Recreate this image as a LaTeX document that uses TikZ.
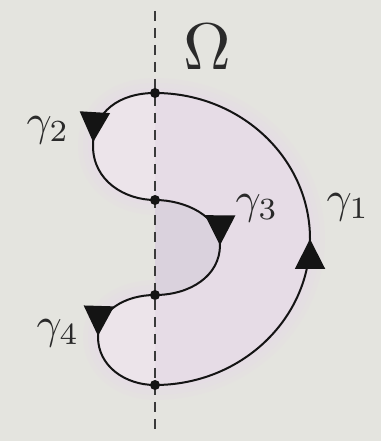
\documentclass[tikz,border=0pt]{standalone}
\usepackage{amsmath,amssymb}
\usetikzlibrary{arrows.meta,decorations.markings}
\definecolor{PaperGrey}{HTML}{E4E4DF}
\definecolor{DomPink}{HTML}{E6DCE6}
\definecolor{LoopPink}{HTML}{ECE4EA}
\definecolor{BayLilac}{HTML}{DAD2DD}
\definecolor{CurveInk}{HTML}{141414}
\definecolor{DashInk}{HTML}{3A3A3A}
\definecolor{LabelInk}{HTML}{2A2A2A}
\tikzset{
  curve/.style={line width=2pt,CurveInk},
  arrowat/.style={postaction={decorate},decoration={markings,
      mark=at position #1 with {\arrow{Triangle[length=30pt,width=30pt]}}}},
  glabel/.style={scale=4.4,text=LabelInk,inner sep=0pt},
}
\begin{document}
\begin{tikzpicture}[x=1pt,y=1pt]
  \fill[PaperGrey] (0,0) rectangle (381,441);
  \useasboundingbox (0,0) rectangle (381,441);
  \coordinate (P1) at (155,348);
  \coordinate (P2) at (155,241);
  \coordinate (P3) at (155,146);
  \coordinate (P4) at (155,56);
  \coordinate (AxisTop) at (155,430);
  \coordinate (AxisBot) at (155,5);
  % soft glow round the domain
  \foreach \w/\o in {30/0.25,20/0.35,10/0.5}
    \draw[DomPink,line width=\w pt,opacity=\o,line join=round]
      (P1) .. controls (120,348) and (93,330) .. (93,295) .. controls (93,260) and (125,241) .. (P2)
      .. controls (185,241) and (220,225) .. (220,196) .. controls (220,165) and (190,146) .. (P3)
      .. controls (125,146) and (98,130) .. (98,104) .. controls (98,75) and (125,56) .. (P4)
      .. controls (240.6,56) and (310,121.4) .. (310,202) .. controls (310,282.6) and (240.6,348) .. (P1) -- cycle;
  \fill[DomPink]
      (P1) .. controls (120,348) and (93,330) .. (93,295) .. controls (93,260) and (125,241) .. (P2)
      .. controls (185,241) and (220,225) .. (220,196) .. controls (220,165) and (190,146) .. (P3)
      .. controls (125,146) and (98,130) .. (98,104) .. controls (98,75) and (125,56) .. (P4)
      .. controls (240.6,56) and (310,121.4) .. (310,202) .. controls (310,282.6) and (240.6,348) .. (P1) -- cycle;
  % lighter loops, darker bay
  \fill[LoopPink] (P1) .. controls (120,348) and (93,330) .. (93,295) .. controls (93,260) and (125,241) .. (P2) -- cycle;
  \fill[LoopPink] (P3) .. controls (125,146) and (98,130) .. (98,104) .. controls (98,75) and (125,56) .. (P4) -- cycle;
  \fill[BayLilac] (P2) .. controls (185,241) and (220,225) .. (220,196) .. controls (220,165) and (190,146) .. (P3) -- cycle;
  % axis
  \draw[DashInk,line width=1.5pt,dash pattern=on 10pt off 7pt] (AxisTop) -- (AxisBot);
  % boundary curves
  \draw[curve,arrowat=0.48] (P1) .. controls (120,348) and (93,330) .. (93,295) .. controls (93,260) and (125,241) .. (P2);
  \draw[curve,arrowat=0.49] (P2) .. controls (185,241) and (220,225) .. (220,196) .. controls (220,165) and (190,146) .. (P3);
  \draw[curve,arrowat=0.48] (P3) .. controls (125,146) and (98,130) .. (98,104) .. controls (98,75) and (125,56) .. (P4);
  \draw[curve,arrowat=0.5] (P4) .. controls (240.6,56) and (310,121.4) .. (310,202) .. controls (310,282.6) and (240.6,348) .. (P1);
  \foreach \p in {P1,P2,P3,P4}
    \fill[CurveInk] (\p) circle (5pt);
  % labels
  \node[scale=6.6,text=LabelInk,inner sep=0pt] (omega) at (207,394) {$\Omega$};
  \node[glabel] (g1) at (348,234) {$\gamma_1$};
  \node[glabel] (g2) at (48,311) {$\gamma_2$};
  \node[glabel] (g3) at (257,233) {$\gamma_3$};
  \node[glabel] (g4) at (58,108) {$\gamma_4$};
\end{tikzpicture}
\end{document}
